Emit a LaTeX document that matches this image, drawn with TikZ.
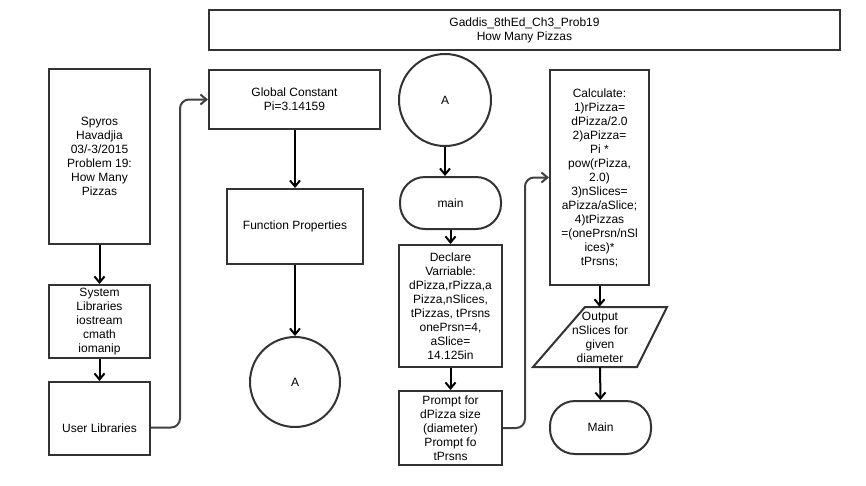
\documentclass[tikz,border=0pt]{standalone}
\usepackage{fontspec}
\setmainfont{Liberation Sans}
\usetikzlibrary{arrows.meta}
\definecolor{edge}{HTML}{333333}
\definecolor{wire}{HTML}{404040}
\begin{document}
\begin{tikzpicture}[x=1pt,y=-1pt,
  txt/.style={font=\fontsize{12}{14}\selectfont, align=center, inner sep=0pt},
  box/.style={txt, draw=edge, line width=2pt, rectangle},
  term/.style={txt, draw=edge, line width=2pt, rectangle, rounded corners=25pt},
  conn/.style={txt, draw=edge, line width=2pt, circle},
  arr/.style={draw=black, line width=2pt, -{Straight Barb[length=6pt,width=10pt]}},
  wirearr/.style={draw=wire, line width=2pt, rounded corners=9pt, -{Straight Barb[length=6pt,width=10pt]}}
]
\useasboundingbox (0,0) rectangle (866,485);
\fill[white] (0,0) rectangle (866,485);

% heading
\node[box, minimum width=631pt, minimum height=40pt] (title) at (524.5,30)
  {Gaddis\_8thEd\_Ch3\_Prob19\\How Many Pizzas};

% left column
\node[box, minimum width=101pt, minimum height=175pt] (spy) at (99.5,156.5)
  {Spyros\\Havadjia\\03/-3/2015\\Problem 19:\\How Many\\Pizzas};
\node[box, minimum width=101pt, minimum height=73pt] (sys) at (99.5,321.5)
  {System\\Libraries\\iostream\\cmath\\iomanip};
\node[box, minimum width=101pt, minimum height=73pt] (user) at (99.5,418.5) {};
\node[txt] (userT) at (99.5,428) {User Libraries};

% second column
\node[box, minimum width=171pt, minimum height=59pt] (glob) at (294.5,99.5)
  {Global Constant\\Pi=3.14159};
\node[box, minimum width=136pt, minimum height=75pt] (func) at (295,226.5)
  {Function Properties};
\node[conn, minimum size=90pt] (circA1) at (295,382) {A};

% third column
\node[conn, minimum size=92pt] (circA2) at (445,100) {A};
\node[term, minimum width=101pt, minimum height=52pt] (mainT) at (450.5,203) {main};
\node[box, minimum width=103pt, minimum height=122pt] (decl) at (450.5,306)
  {Declare\\Varriable:\\dPizza,rPizza,a\\Pizza,nSlices,\\tPizzas, tPrsns\\onePrsn=4,\\aSlice=\\14.125in};
\node[box, minimum width=103pt, minimum height=74pt] (prompt) at (450.5,428)
  {Prompt for\\dPizza size\\(diameter)\\Prompt fo\\tPrsns};

% fourth column
\node[box, minimum width=99pt, minimum height=215pt] (calc) at (599.5,177.5)
  {Calculate:\\1)rPizza=\\dPizza/2.0\\2)aPizza=\\Pi *\\pow(rPizza,\\2.0)\\3)nSlices=\\aPizza/aSlice;\\4)tPizzas\\=(onePrsn/nSl\\ices)*\\tPrsns;};
\node[txt, minimum width=134pt, minimum height=60pt] (outp) at (600,337)
  {Output\\nSlices for\\given\\diameter};
\draw[edge, line width=2pt, line join=miter]
  ([shift={(-67,30)}]outp.center) -- ([shift={(-15,-30)}]outp.center)
  -- ([shift={(67,-30)}]outp.center) -- ([shift={(37,30)}]outp.center) -- cycle;
\node[term, minimum width=101pt, minimum height=53pt] (mainE) at (600.5,427.5) {Main};

% bend points of the long connectors
\coordinate (j1) at (180,0);
\coordinate (j2) at (525,0);

% flow
\draw[arr] (spy.south) -- (sys.north);
\draw[arr] (sys.south) -- (user.north);
\draw[wirearr] ([yshift=-9pt]user.east) -| (j1 |- glob.west) -- (glob.west);
\draw[arr] (glob.south -| func.north) -- (func.north);
\draw[arr] (func.south) -- (circA1.north);
\draw[arr] (circA2.south) -- (circA2.south |- mainT.north);
\draw[arr] (mainT.south) -- (decl.north);
\draw[arr] (decl.south) -- (prompt.north);
\draw[wirearr] (prompt.east) -| (j2 |- calc.west) -- (calc.west);
\draw[arr] (calc.south) -- (calc.south |- outp.north);
\draw[arr] (outp.south) -- (mainE.north);
\end{tikzpicture}
\end{document}
